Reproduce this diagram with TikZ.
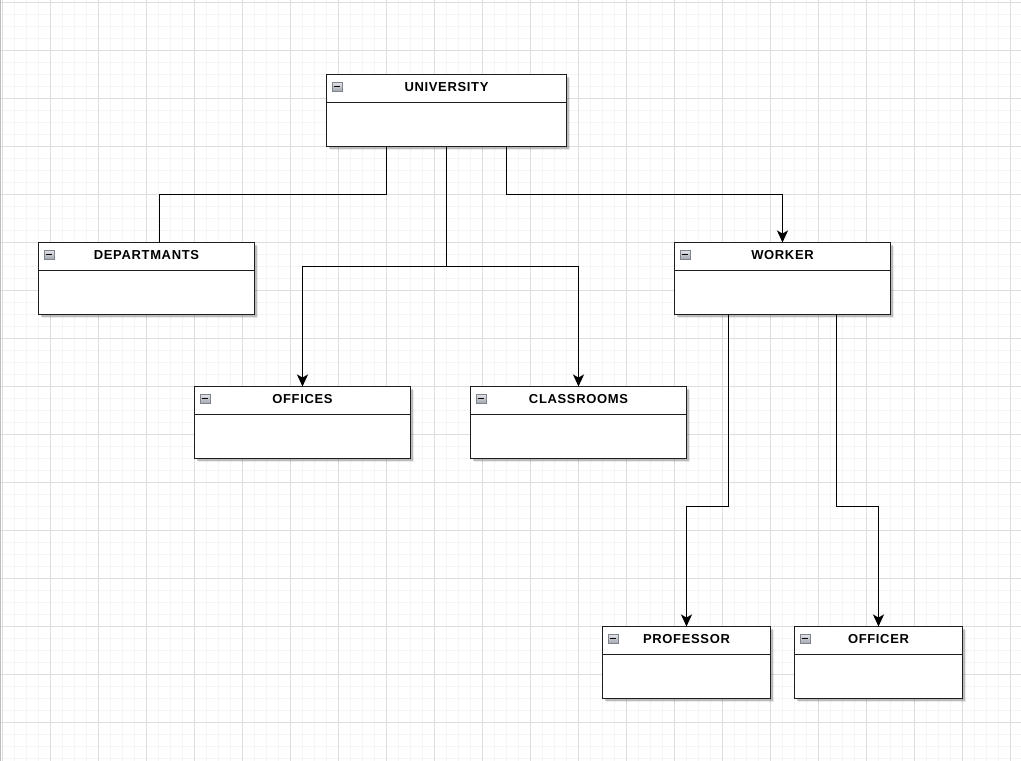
\documentclass[tikz,border=0pt]{standalone}
\usepackage{fontspec}
\setmainfont{Liberation Sans}
\newfontfamily\titlefont{Liberation Sans}[LetterSpace=5]
\usetikzlibrary{arrows.meta,shadows,calc}

\definecolor{gridmajor}{HTML}{DEDEDE}
\definecolor{gridminor}{HTML}{F5F5F5}
\definecolor{boxline}{HTML}{1E1E1E}
\definecolor{iconline}{HTML}{80848C}
\definecolor{icontop}{HTML}{E4E6EA}
\definecolor{iconbottom}{HTML}{A4A8B0}

\tikzset{
  minorgrid/.style={draw=gridminor, line width=1pt},
  majorgrid/.style={draw=gridmajor, line width=1pt},
  classbox/.style={draw=boxline, line width=1.4pt, fill=white, anchor=north west,
    minimum height=72pt, inner sep=0pt, outer sep=0pt,
    general shadow={shadow xshift=3.5pt, shadow yshift=-3.5pt, fill=black, opacity=0.08},
    general shadow={shadow xshift=2pt, shadow yshift=-2pt, fill=black, opacity=0.2}},
  divider/.style={draw=boxline, line width=1.3pt},
  classtitle/.style={inner sep=0pt, font=\titlefont\bfseries\fontsize{13}{15}\selectfont, text=black},
  collapse/.style={draw=iconline, line width=0.8pt, top color=icontop, bottom color=iconbottom,
    minimum width=10pt, minimum height=9pt, inner sep=0pt},
  minus/.style={draw=black, line width=1.6pt},
  conn/.style={draw=black, line width=1.3pt, -{Stealth[length=12pt,width=11pt,inset=3pt]}},
  plainconn/.style={draw=black, line width=1.3pt}
}

% a collapsible class box: name, x, y (top left), width, title
\newcommand\umlclass[5]{%
  \node[classbox, minimum width=#4pt] (#1) at (#2,#3) {};
  \draw[divider] ([yshift=-28pt]#1.north west) -- ([yshift=-28pt]#1.north east);
  \node[classtitle] (#1-title) at ([yshift=-13pt]#1.north) {#5};
  \node[collapse] (#1-icon) at ([xshift=10.5pt,yshift=-12pt]#1.north west) {};
  \draw[minus] ([xshift=-3.3pt]#1-icon.center) -- ([xshift=3.3pt]#1-icon.center);
}

\begin{document}
\begin{tikzpicture}[x=1pt,y=-1pt]
  \useasboundingbox (0,0) rectangle (1021,761);
  \fill[white] (0,0) rectangle (1021,761);

  % background grid
  \foreach \gx in {2.5,14.5,...,1021} \draw[minorgrid] (\gx,0) -- (\gx,761);
  \foreach \gy in {2.5,14.5,...,761} \draw[minorgrid] (0,\gy) -- (1021,\gy);
  \foreach \gx in {2.5,50.5,...,1021} \draw[majorgrid] (\gx,0) -- (\gx,761);
  \foreach \gy in {2.5,50.5,...,761} \draw[majorgrid] (0,\gy) -- (1021,\gy);
  \draw[draw=gridmajor!85!black, line width=1.2pt] (0.6,0) -- (0.6,761);

  % classes
  \umlclass{univ}{326.5}{74.5}{240}{UNIVERSITY}
  \umlclass{dept}{38.5}{242.5}{216}{DEPARTMANTS}
  \umlclass{worker}{674.5}{242.5}{216}{WORKER}
  \umlclass{offices}{194.5}{386.5}{216}{OFFICES}
  \umlclass{classrooms}{470.5}{386.5}{216}{CLASSROOMS}
  \umlclass{prof}{602.5}{626.5}{168}{PROFESSOR}
  \umlclass{officer}{794.5}{626.5}{168}{OFFICER}

  % connector start points and bend levels
  \coordinate (u1) at ($(univ.south west)!0.25!(univ.south east)$);
  \coordinate (u3) at ($(univ.south west)!0.75!(univ.south east)$);
  \coordinate (w1) at ($(worker.south west)!0.25!(worker.south east)$);
  \coordinate (w3) at ($(worker.south west)!0.75!(worker.south east)$);
  \coordinate (deptin) at ($(dept.north west)+(121,0)$);
  \coordinate (busTop) at (0,194.5);
  \coordinate (busMid) at (0,266.5);
  \coordinate (busLow) at (0,506.5);

  % connectors
  \draw[plainconn] (u1) -- (u1 |- busTop) -| (deptin);
  \draw[conn] (univ.south) -- (univ.south |- busMid) -| (offices.north);
  \draw[conn] (univ.south |- busMid) -| (classrooms.north);
  \draw[conn] (u3) -- (u3 |- busTop) -| (worker.north);
  \draw[conn] (w1) -- (w1 |- busLow) -| (prof.north);
  \draw[conn] (w3) -- (w3 |- busLow) -| (officer.north);
\end{tikzpicture}
\end{document}
